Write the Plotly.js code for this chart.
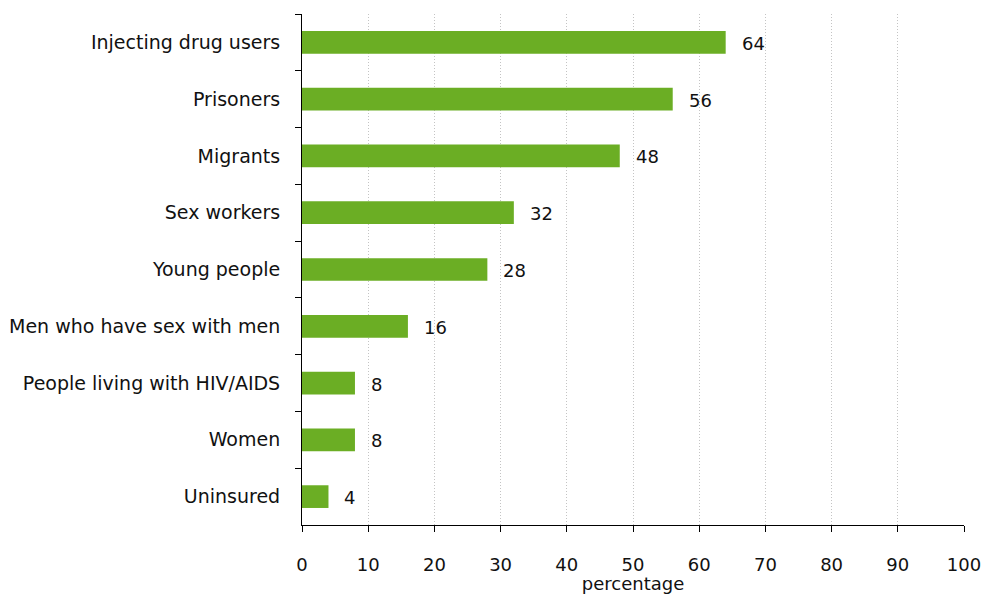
<!DOCTYPE html>
<html>
<head>
<meta charset="utf-8">
<script src="https://cdn.plot.ly/plotly-3.0.1.min.js"></script>
<style>html,body{margin:0;padding:0;background:#fff;}#chart{width:984px;height:594px;}</style>
</head>
<body>
<div id="chart"></div>
<script>
const categories = ["Injecting drug users","Prisoners","Migrants","Sex workers","Young people","Men who have sex with men","People living with HIV/AIDS","Women","Uninsured"];
const values = [64, 56, 48, 32, 28, 16, 8, 8, 4];
const xTicks = [0,10,20,30,40,50,60,70,80,90,100];

const FONT = "DejaVu Sans, Verdana, sans-serif";
const trace = {
  type: "bar",
  orientation: "h",
  y: categories,
  x: values,
  marker: {color: "#6bae24"},
  hoverinfo: "none"
};
const annotations = categories.map((c, i) => ({
  x: values[i], y: c, xref: "x", yref: "y",
  text: String(values[i]), showarrow: false,
  xanchor: "left", xshift: 14, yshift: -1,
  font: {family: FONT, size: 18, color: "#111"}
}));
const layout = {
  width: 984, height: 594,
  margin: {l: 302, r: 20, t: 14, b: 69},
  paper_bgcolor: "#fff", plot_bgcolor: "#fff",
  bargap: 0.6,
  showlegend: false,
  font: {family: FONT, size: 18, color: "#111"},
  xaxis: {
    range: [0, 100], tickvals: xTicks, ticktext: xTicks.map(String),
    tickfont: {family: FONT, size: 18, color: "#111"},
    showgrid: true, gridcolor: "#c4c4c4", griddash: "1px,2px", gridwidth: 1,
    zeroline: false, showline: true, linecolor: "#000", linewidth: 1,
    ticks: "outside", ticklen: 6, tickcolor: "#000",
    ticklabelstandoff: 17,
    title: {text: "percentage", font: {family: FONT, size: 18, color: "#111"}, standoff: 0},
    fixedrange: true
  },
  yaxis: {
    type: "category", autorange: "reversed",
    tickfont: {family: FONT, size: 19, color: "#111"},
    showline: true, linecolor: "#000", linewidth: 1,
    ticks: "outside", ticklen: 6, tickcolor: "#000", tickson: "boundaries",
    ticklabelstandoff: 17,
    showgrid: false, zeroline: false,
    fixedrange: true
  },
  annotations: annotations
};
Plotly.newPlot("chart", [trace], layout, {displayModeBar: false, staticPlot: true});
</script>
</body>
</html>
